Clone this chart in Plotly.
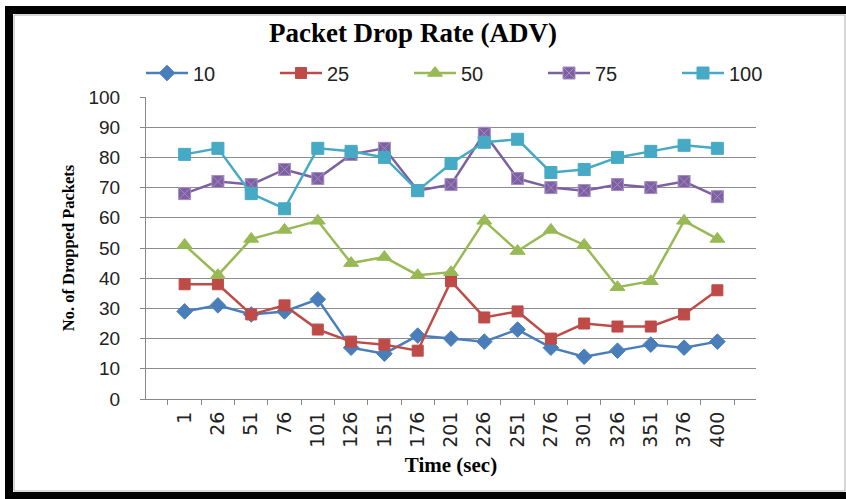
import plotly.graph_objects as go

times = ["1", "26", "51", "76", "101", "126", "151", "176", "201", "226",
         "251", "276", "301", "326", "351", "376", "400"]
s10 = [29, 31, 28, 29, 33, 17, 15, 21, 20, 19, 23, 17, 14, 16, 18, 17, 19]
s25 = [38, 38, 28, 31, 23, 19, 18, 16, 39, 27, 29, 20, 25, 24, 24, 28, 36]
s50 = [51, 41, 53, 56, 59, 45, 47, 41, 42, 59, 49, 56, 51, 37, 39, 59, 53]
s75 = [68, 72, 71, 76, 73, 81, 83, 69, 71, 88, 73, 70, 69, 71, 70, 72, 67]
s100 = [81, 83, 68, 63, 83, 82, 80, 69, 78, 85, 86, 75, 76, 80, 82, 84, 83]

W, H = 846, 499
L, R, T, B = 146, 90, 97, 100
PW, PH = W - L - R, H - T - B


def px(x):
    return (x - L) / PW


def py(y):
    return (H - B - y) / PH


series = [
    ("10", s10, "#4a7ebb", "diamond", 12, "#4a7ebb"),
    ("25", s25, "#be4b48", "square", 11, "#be4b48"),
    ("50", s50, "#98b954", "triangle-up", 13, "#98b954"),
    ("75", s75, "#7d60a0", "square-x", 12, "#a58cc6"),
    ("100", s100, "#46aac5", "square", 12, "#46aac5"),
]

fig = go.Figure()
for name, vals, col, sym, sz, lc in series:
    fig.add_trace(go.Scatter(
        x=times, y=vals, name=name, mode="lines+markers",
        line=dict(color=col, width=2.5),
        marker=dict(symbol=sym, size=sz, color=col, line=dict(color=lc, width=1)),
    ))

shapes = [
    dict(type="rect", xref="paper", yref="paper", x0=px(5), x1=px(13), y0=py(499), y1=py(6),
         fillcolor="black", line=dict(width=0), layer="above"),
    dict(type="rect", xref="paper", yref="paper", x0=px(5), x1=px(846), y0=py(14), y1=py(6),
         fillcolor="black", line=dict(width=0), layer="above"),
    dict(type="rect", xref="paper", yref="paper", x0=px(5), x1=px(846), y0=py(499), y1=py(492),
         fillcolor="black", line=dict(width=0), layer="above"),
    dict(type="rect", xref="paper", yref="paper", x0=px(14), x1=px(845), y0=py(491), y1=py(15),
         fillcolor="rgba(0,0,0,0)", line=dict(color="#b0b0b0", width=1), layer="above"),
]

fig.update_layout(
    width=W, height=H,
    margin=dict(l=L, r=R, t=T, b=B),
    paper_bgcolor="white", plot_bgcolor="white",
    title=dict(text="<b>Packet Drop Rate (ADV)</b>", x=px(413), xref="paper",
               xanchor="center", y=1 - 33 / H, yanchor="middle",
               font=dict(family="Liberation Serif", size=27, color="black")),
    legend=dict(orientation="h", x=px(141), xanchor="left", y=py(73), yanchor="middle",
                font=dict(family="Liberation Sans", size=20, color="#222"),
                itemwidth=42,
                entrywidth=77, entrywidthmode="pixels", bgcolor="rgba(0,0,0,0)"),
    shapes=shapes,
    showlegend=True,
)

fig.update_xaxes(
    type="category", tickangle=-90, tickson="boundaries",
    ticks="outside", ticklen=5, tickcolor="#888",
    showline=True, linecolor="#888", linewidth=1, showgrid=False,
    ticklabelstandoff=4,
    tickfont=dict(family="DejaVu Sans", size=19, color="#222"),
    title=dict(text="<b>Time (sec)</b>", standoff=10,
               font=dict(family="Liberation Serif", size=21, color="black")),
)
fig.update_yaxes(
    range=[0, 100], dtick=10, tick0=0,
    ticks="outside", ticklen=5, tickcolor="#888",
    showline=True, linecolor="#888", linewidth=1,
    showgrid=True, gridcolor="#8c8c8c", gridwidth=1, zeroline=False,
    ticklabelstandoff=16,
    tickfont=dict(family="Liberation Sans", size=19, color="#222"),
    title=dict(text="<b>No. of Dropped Packets</b>", standoff=9,
               font=dict(family="Liberation Serif", size=16.5, color="black")),
)

fig.write_html("out.html", config={"displayModeBar": False},
               post_script="document.body.style.margin='0';")
